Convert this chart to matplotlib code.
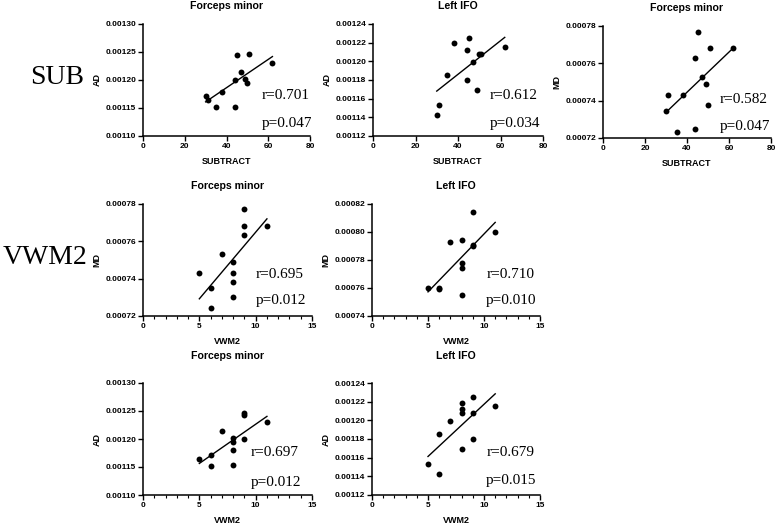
import matplotlib
matplotlib.use("Agg")
import matplotlib.pyplot as plt
import numpy as np
from matplotlib.ticker import FormatStrFormatter, MultipleLocator

# ---------------- data ----------------
sub_x = [30, 31, 35, 38, 44, 44, 45, 47, 49, 50, 51, 62]
vwm2_x = [5, 6, 6, 7, 8, 8, 8, 8, 9, 9, 9, 11]

sub_fm_ad = [0.001172, 0.001164, 0.001152, 0.001179, 0.001200, 0.001152,
             0.001244, 0.001215, 0.001202, 0.001195, 0.001246, 0.001230]
sub_lifo_ad = [0.001142, 0.001153, 0.001185, 0.001220, 0.001212, 0.001180,
               0.001225, 0.001199, 0.001169, 0.001208, 0.001208, 0.001215]
sub_fm_md = [0.0007345, 0.0007428, 0.0007234, 0.0007428, 0.0007629, 0.0007250,
             0.0007769, 0.0007529, 0.0007489, 0.0007376, 0.0007680, 0.0007680]

vwm2_fm_md = [0.0007431, 0.0007350, 0.0007243, 0.0007533, 0.0007490, 0.0007431,
              0.0007381, 0.0007300, 0.0007773, 0.0007684, 0.0007632, 0.0007684]
vwm2_lifo_md = [0.000760, 0.000760, 0.000759, 0.000793, 0.000794, 0.000778,
                0.000774, 0.000755, 0.000814, 0.000791, 0.000790, 0.000800]
vwm2_fm_ad = [0.0011647, 0.0011718, 0.0011522, 0.0012151, 0.0012015, 0.0011950,
              0.0011795, 0.0011534, 0.0012460, 0.0012430, 0.0011997, 0.0012306]
vwm2_lifo_ad = [0.0011531, 0.0011852, 0.0011421, 0.0011990, 0.0012190, 0.0012119,
                0.0012076, 0.0011691, 0.0012250, 0.0012083, 0.0011802, 0.0012151]

titles = ["Forceps minor", "Left IFO", "Forceps minor",
          "Forceps minor", "Left IFO",
          "Forceps minor", "Left IFO"]
ylabels = ["AD", "AD", "MD", "MD", "MD", "AD", "AD"]
xlabels = ["SUBTRACT", "SUBTRACT", "SUBTRACT", "VWM2", "VWM2", "VWM2", "VWM2"]
r_texts = ["r=0.701", "r=0.612", "r=0.582", "r=0.695", "r=0.710", "r=0.697", "r=0.679"]
p_texts = ["p=0.047", "p=0.034", "p=0.047", "p=0.012", "p=0.010", "p=0.012", "p=0.015"]
row_labels = ["SUB", "VWM2"]

xs = [sub_x, sub_x, sub_x, vwm2_x, vwm2_x, vwm2_x, vwm2_x]
ys = [sub_fm_ad, sub_lifo_ad, sub_fm_md, vwm2_fm_md, vwm2_lifo_md, vwm2_fm_ad, vwm2_lifo_ad]

# ---------------- layout ----------------
W, H = 778, 524
fig = plt.figure(figsize=(W / 100, H / 100), dpi=100)

# (x0, x1, ytop, ybot) in pixels
boxes = [(143, 310, 24, 136), (373, 543, 24, 136), (603, 771, 26, 138),
         (143, 312, 204, 316), (372, 540, 204, 316),
         (143, 312, 383, 495), (372, 540, 383, 495)]
xlims = [(0, 80)] * 3 + [(0, 15)] * 4
xmaj = [20] * 3 + [5] * 4
xmin = [None] * 3 + [1] * 4
ylims = [(0.00110, 0.00130), (0.00112, 0.00124), (0.00072, 0.00078),
         (0.00072, 0.00078), (0.00074, 0.00082),
         (0.00110, 0.00130), (0.00112, 0.00124)]
ysteps = [0.00005, 0.00002, 0.00002, 0.00002, 0.00002, 0.00005, 0.00002]
title_off = [18, 18, 18, 18, 18, 27, 27]
rpos = [(0.71, 0.366, 0.113), (0.684, 0.36, 0.113), (0.696, 0.348, 0.107),
        (0.669, 0.372, 0.134), (0.68, 0.372, 0.134),
        (0.637, 0.378, 0.113), (0.68, 0.378, 0.128)]

sans = "Liberation Sans"
serif = "Liberation Serif"

for i in range(7):
    x0, x1, yt, yb = boxes[i]
    ax = fig.add_axes([x0 / W, (H - yb) / H, (x1 - x0) / W, (yb - yt) / H])
    x = np.array(xs[i], dtype=float)
    y = np.array(ys[i], dtype=float)
    ax.scatter(x, y, s=18, color="black", zorder=3, linewidths=0)
    k, b = np.polyfit(x, y, 1)
    xx = np.array([x.min(), x.max()])
    ax.plot(xx, k * xx + b, color="black", lw=1.0, zorder=2)

    ax.set_xlim(*xlims[i])
    ax.set_ylim(*ylims[i])
    ax.xaxis.set_major_locator(MultipleLocator(xmaj[i]))
    if xmin[i]:
        ax.xaxis.set_minor_locator(MultipleLocator(xmin[i]))
    ax.yaxis.set_major_locator(MultipleLocator(ysteps[i]))
    ax.yaxis.set_major_formatter(FormatStrFormatter("%.5f"))
    for s in ["top", "right"]:
        ax.spines[s].set_visible(False)
    for s in ["left", "bottom"]:
        ax.spines[s].set_linewidth(1.1)
    ax.tick_params(axis="both", which="major", direction="out", length=3.5, width=1.0,
                   labelsize=6, pad=1.5)
    ax.tick_params(axis="x", which="minor", direction="out", length=2, width=0.8)
    for lab in ax.get_xticklabels() + ax.get_yticklabels():
        lab.set_fontfamily(sans)
        lab.set_fontweight("bold")
    ax.patch.set_alpha(0)

    h = yb - yt
    w = x1 - x0
    ax.text(0.5, 1 + title_off[i] / h, titles[i], transform=ax.transAxes,
            ha="center", va="center", fontsize=7.6, fontweight="bold", family=sans)
    ax.text(0.5, -25.5 / h, xlabels[i], transform=ax.transAxes,
            ha="center", va="center", fontsize=6.5, fontweight="bold", family=sans)
    ax.text(-46 / w, 0.5, ylabels[i], transform=ax.transAxes, rotation=90,
            ha="center", va="center", fontsize=6.5, fontweight="bold", family=sans)
    rx, ry, py = rpos[i]
    ax.text(rx, ry, r_texts[i], transform=ax.transAxes, ha="left", va="center",
            fontsize=11, family=serif)
    ax.text(rx, py, p_texts[i], transform=ax.transAxes, ha="left", va="center",
            fontsize=11, family=serif)

fig.text(57 / W, 1 - 78 / H, row_labels[0], ha="center", va="center",
         fontsize=20, family=serif)
fig.text(45 / W, 1 - 258 / H, row_labels[1], ha="center", va="center",
         fontsize=20, family=serif)

fig.savefig("out.png", dpi=100)
